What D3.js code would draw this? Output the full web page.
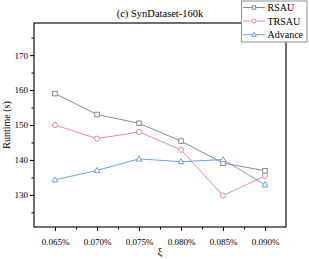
<!DOCTYPE html>
<html>
<head>
<meta charset="utf-8">
<script src="https://cdn.jsdelivr.net/npm/d3@7"></script>
<style>
    body { margin: 0; background: #fff; }
    svg text { font-family: "Liberation Serif", "DejaVu Serif", serif !important; fill: #000; }
</style>
</head>
<body>
<svg id="chart"></svg>
<script>
//Chart values.
var categories = ["0.065%", "0.070%", "0.075%", "0.080%", "0.085%", "0.090%"];
var rsau = [159, 153, 150.5, 145.4, 139.1, 136.9];
var trsau = [150, 146.1, 148, 142.9, 129.8, 135.4];
var advance = [134.3, 137, 140.3, 139.5, 140.1, 132.9];
var yTicks = [130, 140, 150, 160, 170];
var yMinorTicks = [125, 135, 145, 155, 165, 175];
var seriesNames = ["RSAU", "TRSAU", "Advance"];

(function () {
    var width = 309, height = 259;
    var left = 34, right = 286, top = 23, bottom = 227;
    var serif = "'Liberation Serif', 'DejaVu Serif', serif";

    var svg = d3.select("#chart")
        .attr("width", width)
        .attr("height", height)
        .attr("font-family", serif);

    var x = d3.scaleLinear().domain([-0.5, categories.length - 0.5]).range([left, right]);
    var y = d3.scaleLinear().domain([120.8, 179.2]).range([bottom, top]);

    //Axes with outward ticks.
    var xAxis = d3.axisBottom(x)
        .tickValues(d3.range(categories.length))
        .tickFormat(function (d) { return categories[d]; })
        .tickSize(4).tickSizeOuter(0);
    var xMinor = d3.axisBottom(x)
        .tickValues(d3.range(categories.length - 1).map(function (i) { return i + 0.5; }))
        .tickFormat("").tickSize(2.5).tickSizeOuter(0);
    var yAxis = d3.axisLeft(y).tickValues(yTicks).tickSize(4).tickSizeOuter(0);
    var yMinor = d3.axisLeft(y).tickValues(yMinorTicks).tickFormat("").tickSize(2.5).tickSizeOuter(0);

    function styleAxis(g) {
        g.attr("font-family", serif);
        g.select(".domain").remove();
        g.selectAll("line").attr("stroke", "#000").attr("stroke-width", 1);
        g.selectAll("text").style("font-size", "9px").style("font-family", serif);
    }

    svg.append("g").attr("transform", "translate(0," + bottom + ")").call(xAxis).call(styleAxis)
        .selectAll("text").attr("dy", "1.25em");
    svg.append("g").attr("transform", "translate(0," + bottom + ")").call(xMinor).call(styleAxis);
    svg.append("g").attr("transform", "translate(" + left + ",0)").call(yAxis).call(styleAxis)
        .selectAll("text").attr("x", -6);
    svg.append("g").attr("transform", "translate(" + left + ",0)").call(yMinor).call(styleAxis);

    //Plot frame.
    svg.append("rect")
        .attr("x", left).attr("y", top)
        .attr("width", right - left).attr("height", bottom - top)
        .attr("fill", "none").attr("stroke", "#222").attr("stroke-width", 1.3);

    var series = [
        { name: seriesNames[0], values: rsau, color: "#7f7f7f", shape: "square" },
        { name: seriesNames[1], values: trsau, color: "#f08080", shape: "circle" },
        { name: seriesNames[2], values: advance, color: "#5b97e6", shape: "triangle" }
    ];

    var line = d3.line()
        .x(function (d, i) { return x(i); })
        .y(function (d) { return y(d); });

    //Hollow marker, k scales its size.
    function drawMarker(g, shape, cx, cy, color, k) {
        if (shape === "square") {
            g.append("rect").attr("x", cx - 2.3 * k).attr("y", cy - 2.3 * k)
                .attr("width", 4.6 * k).attr("height", 4.6 * k)
                .attr("fill", "#fff").attr("stroke", color).attr("stroke-width", 0.9);
        } else if (shape === "circle") {
            g.append("circle").attr("cx", cx).attr("cy", cy).attr("r", 2.6 * k)
                .attr("fill", "#fff").attr("stroke", color).attr("stroke-width", 0.9);
        } else {
            g.append("path")
                .attr("d", "M" + cx + "," + (cy - 3 * k) + "L" + (cx + 3 * k) + "," + (cy + 2.2 * k) + "L" + (cx - 3 * k) + "," + (cy + 2.2 * k) + "Z")
                .attr("fill", "#fff").attr("stroke", color).attr("stroke-width", 0.9);
        }
    }

    series.forEach(function (s) {
        svg.append("path")
            .datum(s.values)
            .attr("d", line)
            .attr("fill", "none")
            .attr("stroke", s.color)
            .attr("stroke-width", 0.9);
        var g = svg.append("g");
        s.values.forEach(function (v, i) {
            drawMarker(g, s.shape, x(i), y(v), s.color, 1);
        });
    });

    //Legend box in the top right corner.
    var legend = svg.append("g");
    legend.append("rect")
        .attr("x", 241.5).attr("y", 1)
        .attr("width", 65.5).attr("height", 41)
        .attr("fill", "#fff").attr("stroke", "#999").attr("stroke-width", 1.1);
    series.forEach(function (s, i) {
        var ly = 7.5 + i * 13.6;
        legend.append("line")
            .attr("x1", 243).attr("x2", 265).attr("y1", ly).attr("y2", ly)
            .attr("stroke", s.color).attr("stroke-width", 0.9);
        drawMarker(legend, s.shape, 254, ly, s.color, 0.75);
        legend.append("text")
            .attr("x", 267.5).attr("y", ly + 3.5)
            .style("font-size", "10px")
            .text(s.name);
    });

    //Titles.
    svg.append("text")
        .attr("x", 160).attr("y", 16.5)
        .attr("text-anchor", "middle")
        .style("font-size", "10.5px")
        .text("(c) SynDataset-160k");

    svg.append("text")
        .attr("transform", "translate(9.5,125) rotate(-90)")
        .attr("text-anchor", "middle")
        .style("font-size", "10px")
        .text("Runtime (s)");

    svg.append("text")
        .attr("x", 160).attr("y", 255)
        .attr("text-anchor", "middle")
        .style("font-size", "11px")
        .text("ξ");
})();
</script>
</body>
</html>
